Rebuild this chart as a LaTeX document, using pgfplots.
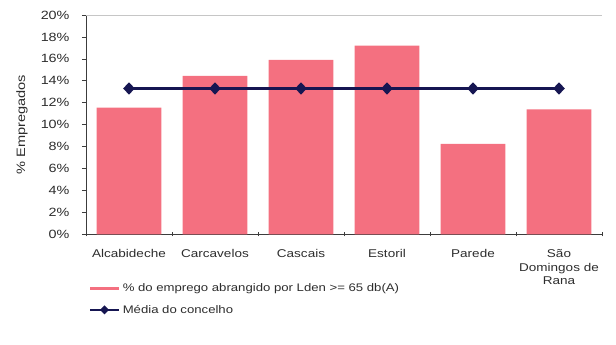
\documentclass[border=0pt]{standalone}
\usepackage{fontspec}
\setmainfont[FakeStretch=1.2]{Liberation Sans}
\usepackage{pgfplots}
\pgfplotsset{compat=1.18}
\definecolor{barpink}{RGB}{244,112,128}
\definecolor{navyline}{RGB}{22,22,82}
\definecolor{txt}{RGB}{45,45,45}
\definecolor{axisgray}{RGB}{60,60,60}

\pgfplotsset{
  pinkbar legend/.style={legend image code/.code={\draw[barpink, line width=3.5bp] (0bp,0bp) -- (29bp,0bp);}},
  navyline legend/.style={legend image code/.code={%
    \draw[navyline, line width=1.8bp] (0bp,0bp) -- (29bp,0bp);
    \fill[navyline] (14.5bp,0bp) +(0,3bp) -- +(3bp,0) -- +(0,-3bp) -- +(-3bp,0) -- cycle;}},
}

\begin{document}
\begin{tikzpicture}
\begin{axis}[
  scale only axis,
  width=516bp, height=219.3bp,
  xmin=-0.5, xmax=5.5, ymin=0, ymax=20,
  axis y line*=left, axis x line*=bottom,
  axis line style={axisgray, line width=0.9bp},
  every tick/.style={axisgray, line width=0.7bp},
  major tick length=4bp,
  ytick={0,2,...,20},
  yticklabel={\pgfmathprintnumber{\tick}\%},
  /pgf/number format/assume math mode=true,
  y tick label style={font=\fontsize{12}{14}\selectfont, text=txt, xshift=-9bp},
  ytick align=outside,
  xtick={-0.5,0.5,...,5.5},
  x tick label as interval,
  xtick align=center,
  xticklabels={Alcabideche,Carcavelos,Cascais,Estoril,Parede,{São\\Domingos de\\Rana}},
  x tick label style={font=\fontsize{11.3}{13.6}\selectfont, text=txt, align=center, anchor=north, yshift=-10bp},
  ylabel={\% Empregados},
  ylabel style={font=\fontsize{12.2}{14}\selectfont, text=txt, at={(axis description cs:-0.124,0.5)}, anchor=center},
  legend style={at={(axis description cs:0.004,-0.215)}, anchor=north west, draw=none, fill=none,
    font=\fontsize{11}{13}\selectfont, text=txt, inner sep=0pt, row sep=8bp,
    nodes={inner sep=2bp}},
  legend cell align=left,
]
\draw[gray!45, line width=0.8bp] (axis description cs:0,1) -- (axis description cs:1,1);

% share of employment exposed to Lden >= 65 dB(A), by parish
\addplot[ybar, bar width=0.755, fill=barpink, draw=none, pinkbar legend]
  coordinates {(0,11.55) (1,14.45) (2,15.9) (3,17.2) (4,8.25) (5,11.4)};
\addlegendentry{\% do emprego abrangido por Lden >= 65 db(A)}

% municipal average
\addplot[navyline, line width=2.2bp, mark=diamond*, mark size=4.6bp,
  mark options={fill=navyline, draw=navyline, xscale=1.25}, navyline legend]
  coordinates {(0,13.3) (1,13.3) (2,13.3) (3,13.3) (4,13.3) (5,13.3)};
\addlegendentry{Média do concelho}
\end{axis}
\path[use as bounding box] (-86bp,-110.7bp) rectangle (530bp,234.3bp);
\end{tikzpicture}
\end{document}
